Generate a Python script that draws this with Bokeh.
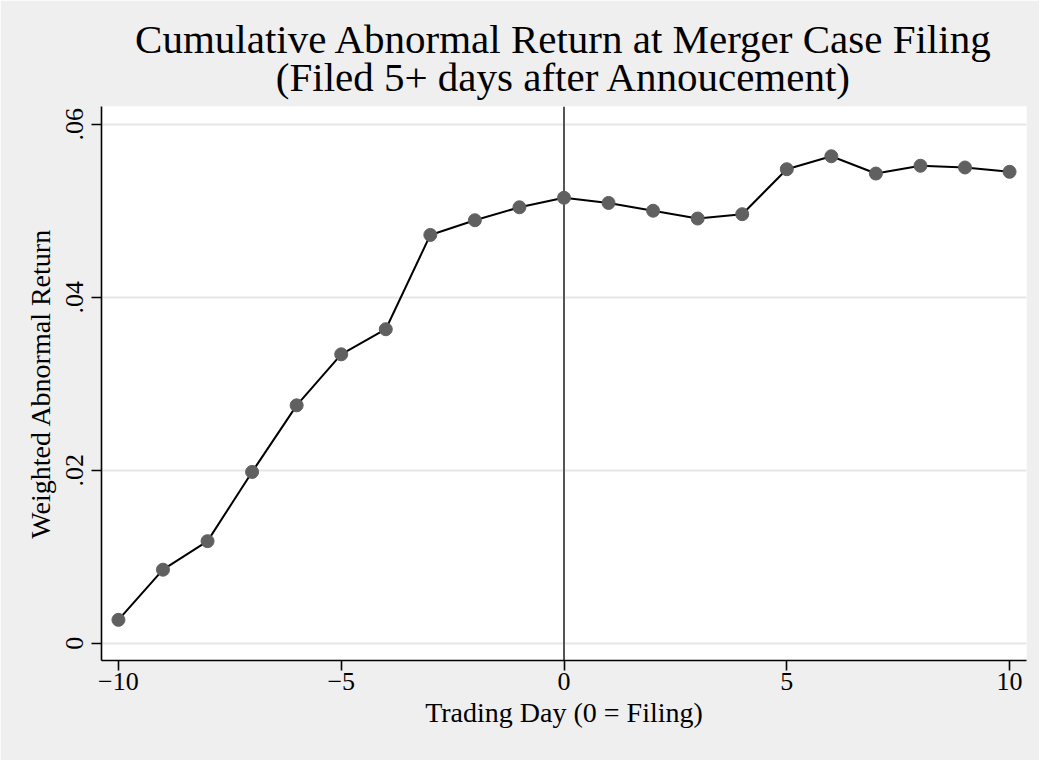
from bokeh.plotting import figure
from bokeh.models import Title, Span, FixedTicker, Range1d
from bokeh.embed import file_html
from bokeh.resources import INLINE

# ---- data ----
days = [-10, -9, -8, -7, -6, -5, -4, -3, -2, -1, 0, 1, 2, 3, 4, 5, 6, 7, 8, 9, 10]
car = [0.0027, 0.0085, 0.0118, 0.0198, 0.0275, 0.0334, 0.0363, 0.0472, 0.0489, 0.0504,
       0.0515, 0.0509, 0.0500, 0.0491, 0.0496, 0.0548, 0.0563, 0.0543, 0.0552, 0.0550, 0.0545]
x_ticks = [-10, -5, 0, 5, 10]
x_tick_labels = ["\u221210", "\u22125", "0", "5", "10"]
y_ticks = [0, 0.02, 0.04, 0.06]
y_tick_labels = ["0", ".02", ".04", ".06"]
filing_day = 0
title_line1 = "Cumulative Abnormal Return at Merger Case Filing"
title_line2 = "(Filed 5+ days after Annoucement)"
x_label = "Trading Day (0 = Filing)"
y_label = "Weighted Abnormal Return"

FONT = "Liberation Serif"
BG = "#EFEFEF"

p = figure(width=1039, height=760, output_backend="svg", toolbar_location=None,
           x_range=Range1d(-10.38, 10.38), y_range=Range1d(-0.0020, 0.06205),
           min_border_left=101, min_border_right=13, min_border_bottom=100, min_border_top=106)
p.background_fill_color = "white"
p.border_fill_color = BG
p.outline_line_color = None

# two-line title: p.title is the outer line, the added Title sits next to the frame
p.title.text = title_line1
p.title.align = "center"
p.title.text_font = FONT
p.title.text_font_size = "41px"
p.title.text_font_style = "normal"
p.title.text_color = "black"
p.title.standoff = -33
t2 = Title(text=title_line2, align="center", text_font=FONT, text_font_size="41px",
           text_font_style="normal", text_color="black", standoff=13)
p.add_layout(t2, "above")

# axes
for ax in (p.xaxis[0], p.yaxis[0]):
    ax.axis_line_color = "black"
    ax.axis_line_width = 1.6
    ax.major_tick_line_color = "black"
    ax.major_tick_line_width = 1.6
    ax.major_tick_in = 0
    ax.major_tick_out = 10
    ax.minor_tick_line_color = None
    ax.major_label_text_font = FONT
    ax.major_label_text_font_size = "26px"
    ax.major_label_text_color = "black"
    ax.axis_label_text_font = FONT
    ax.axis_label_text_font_size = "28px"
    ax.axis_label_text_font_style = "normal"
    ax.axis_label_text_color = "black"

p.xaxis.ticker = FixedTicker(ticks=x_ticks)
p.xaxis.major_label_overrides = dict(zip(x_ticks, x_tick_labels))
p.xaxis.axis_label = x_label
p.xaxis.major_label_standoff = 2
p.xaxis.axis_label_standoff = 4

p.yaxis.ticker = FixedTicker(ticks=y_ticks)
p.yaxis.major_label_overrides = dict(zip(y_ticks, y_tick_labels))
p.yaxis.major_label_orientation = "vertical"
p.yaxis.axis_label = y_label
p.yaxis.major_label_standoff = 8
p.yaxis.axis_label_standoff = 8

p.xgrid.visible = False
p.ygrid.ticker = FixedTicker(ticks=y_ticks)
p.ygrid.grid_line_color = "#E6E6E6"
p.ygrid.grid_line_width = 2

vline = Span(location=filing_day, dimension="height", line_color="#555555",
             line_width=2, level="underlay")
p.add_layout(vline)

p.line(days, car, line_color="black", line_width=2)
p.scatter(days, car, size=13, fill_color="#606060", line_color="#606060", line_width=1)

open("out.html", "w").write(file_html(p, INLINE))
